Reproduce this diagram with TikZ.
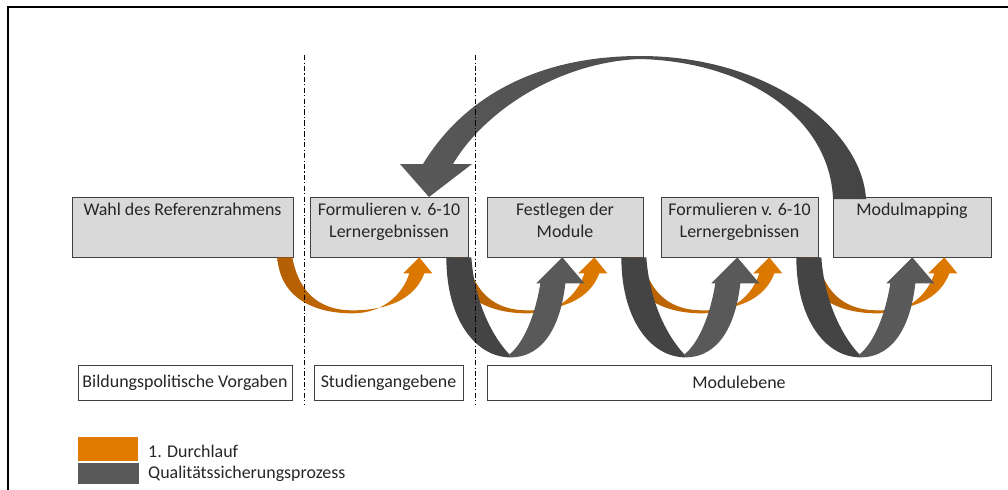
\documentclass[tikz,border=0pt]{standalone}
\usepackage{fontspec}
\setmainfont{Carlito}
\usepackage{tikz}
\usetikzlibrary{positioning}
\usepackage{xcolor}
\definecolor{lauforange}{RGB}{224,123,0}
\definecolor{lauforangedark}{RGB}{178,94,4}
\definecolor{qsgray}{RGB}{89,89,89}
\definecolor{qsgraydark}{RGB}{68,68,68}
\definecolor{boxgray}{RGB}{217,217,217}
\definecolor{boxline}{RGB}{64,64,64}

% band arrows, hung on the south east corner of the box they leave
\newcommand{\orangebow}[1]{%
  \shade[shift={(#1)}, left color=lauforangedark, right color=lauforange]
    (-16,0) .. controls (-13,43) and (24,56) .. (59,56)
    .. controls (89,56) and (109,38) .. (116,16) -- (110,16) -- (126,0)
    -- (139,16) -- (131,16) .. controls (121,43) and (92,53) .. (59,53)
    .. controls (29,53) and (6,38) .. (-1,0) -- cycle;}
\newcommand{\graybow}[1]{%
  \fill[shift={(#1)}, qsgraydark]
    (-22,0) .. controls (-22,63) and (8,100) .. (42,100) -- (41,97)
    .. controls (23,78) and (6,43) .. (3,0) -- cycle;
  \fill[shift={(#1)}, qsgray]
    (42,100) .. controls (78,100) and (93,63) .. (97,26) -- (116,26) -- (94,0)
    -- (68,26) -- (72,26) .. controls (66,63) and (53,88) .. (41,97) -- cycle;}

\begin{document}
\begin{tikzpicture}[x=0.02cm, y=-0.02cm,
    font=\fontsize{10.2}{12.5}\selectfont, text=black!85,
    topbox/.style={draw=boxline, fill=boxgray, minimum height=1.2cm, inner sep=0pt},
    basebox/.style={draw=boxline, fill=white, minimum height=0.7cm, inner sep=0pt},
    boxtext/.style={anchor=north, align=center, inner sep=3.5pt},
    sepline/.style={black, dash pattern=on 3pt off 1.3pt on 0.6pt off 1.3pt}]
    \useasboundingbox (0,0) rectangle (1008,490);
    % frame
    \draw[line width=1.2pt] (8,490) -- (8,7) -- (1008,7);
    % process steps
    \node[topbox, minimum width=4.42cm] (wahl) at (182.5,227) {};
    \node[topbox, minimum width=3.16cm] (form1) at (389,227) {};
    \node[topbox, minimum width=3.12cm] (fest) at (565,227) {};
    \node[topbox, minimum width=3.14cm] (form2) at (739.5,227) {};
    \node[topbox, minimum width=3.16cm] (mapping) at (912,227) {};
    \node[boxtext] (wahltxt) at (wahl.north) {Wahl des Referenzrahmens};
    \node[boxtext] (form1txt) at (form1.north) {Formulieren v. 6-10\\Lernergebnissen};
    \node[boxtext] (festtxt) at (fest.north) {Festlegen der\\Module};
    \node[boxtext] (form2txt) at (form2.north) {Formulieren v. 6-10\\Lernergebnissen};
    \node[boxtext] (mappingtxt) at (mapping.north) {Modulmapping};
    % levels
    \node[basebox, minimum width=4.28cm] (bildung) at (185,382.5) {Bildungspolitische Vorgaben};
    \node[basebox, minimum width=2.98cm] (studium) at (388.5,382.5) {Studiengangebene};
    \node[basebox, minimum width=10.08cm] (modul) at (739,382.5) {Modulebene};
    % 1. Durchlauf
    \orangebow{wahl.south east}
    \orangebow{form1.south east}
    \orangebow{fest.south east}
    \orangebow{form2.south east}
    % quality loop
    \graybow{form1.south east}
    \graybow{fest.south east}
    \graybow{form2.south east}
    \shade[left color=qsgray, right color=qsgraydark]
      (866,199) .. controls (862,130) and (770,56) .. (640,56)
      .. controls (540,56) and (465,95) .. (423,164) -- (400,164) -- (429,197)
      -- (472,164) -- (453,164) .. controls (485,110) and (560,62) .. (640,59)
      .. controls (750,62) and (830,120) .. (833,199) -- cycle;
    % level separators
    \draw[sepline] (304,55) -- (304,405);
    \draw[sepline] (475,55) -- (475,405);
    % legend
    \node[fill=lauforange, minimum width=1.2cm, minimum height=0.48cm, inner sep=0pt] (legorange) at (108,449) {};
    \node[fill=qsgray, minimum width=1.22cm, minimum height=0.42cm, inner sep=0pt] (leggray) at (108.5,473.5) {};
    \node[anchor=west] (legorangetxt) at (142,451) {1. Durchlauf};
    \node[anchor=west] (leggraytxt) at (142,474) {Qualitätssicherungsprozess};
\end{tikzpicture}
\end{document}
